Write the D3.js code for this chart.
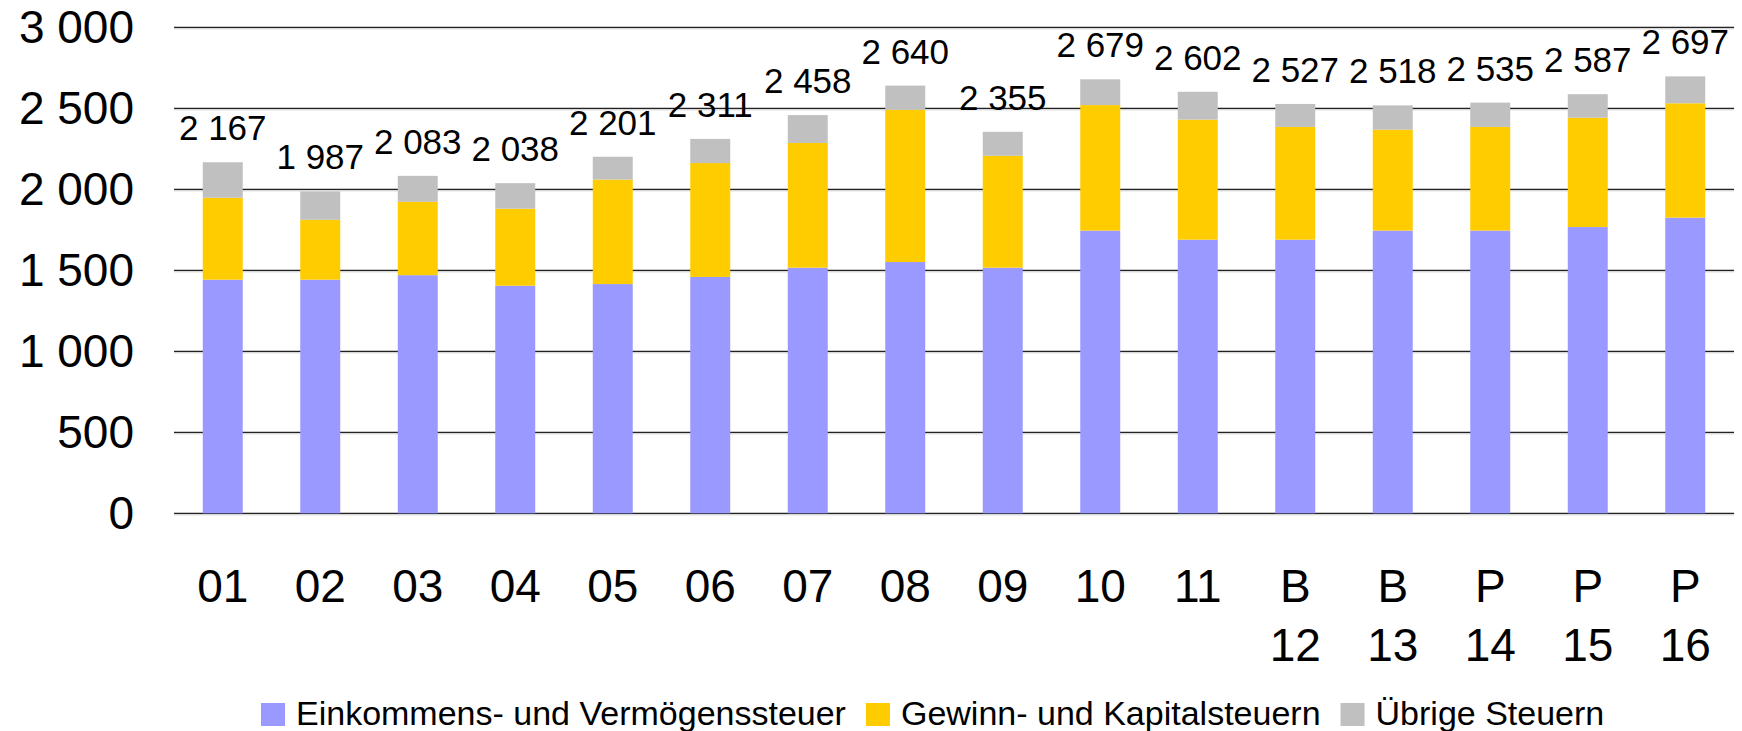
<!DOCTYPE html>
<html>
<head>
<meta charset="utf-8">
<script src="https://cdn.jsdelivr.net/npm/d3@7"></script>
<style>
body { margin: 0; background: #fff; }
text { font-family: "Liberation Sans", Arial, Helvetica, sans-serif; fill: #000; }
</style>
</head>
<body>
<script>
var categories = ["01", "02", "03", "04", "05", "06", "07", "08", "09", "10", "11", "B 12", "B 13", "P 14", "P 15", "P 16"];
var einkommen = [1442, 1442, 1470, 1405, 1415, 1459, 1516, 1551, 1516, 1745, 1689, 1689, 1745, 1745, 1767, 1825];
var gewinn    = [506, 370, 453, 475, 645, 703, 770, 940, 691, 775, 741, 696, 623, 640, 675, 706];
var uebrige   = [219, 175, 160, 158, 141, 149, 172, 149, 148, 159, 172, 142, 150, 150, 145, 166];
var totals    = [2167, 1987, 2083, 2038, 2201, 2311, 2458, 2640, 2355, 2679, 2602, 2527, 2518, 2535, 2587, 2697];
var yTicks = [0, 500, 1000, 1500, 2000, 2500, 3000];
var seriesNames = ["Einkommens- und Vermögenssteuer", "Gewinn- und Kapitalsteuern", "Übrige Steuern"];
var colors = ["#9999FF", "#FFCC00", "#C0C0C0"];

var width = 1742, height = 731;
var plotLeft = 174, plotRight = 1734, plotTop = 27.3, plotBottom = 513.3;

var fmt = d3.formatLocale({decimal: ",", thousands: " ", grouping: [3], currency: ["", ""]}).format(",d");

var svg = d3.select("body").append("svg")
    .attr("width", width)
    .attr("height", height);

var x = d3.scaleBand()
    .domain(categories)
    .range([plotLeft, plotRight])
    .paddingInner(0.59)
    .paddingOuter(0.295);

var y = d3.scaleLinear()
    .domain([0, 3000])
    .range([plotBottom, plotTop]);

// gridlines (dark line with a soft grey one underneath)
var grid = svg.append("g");
grid.selectAll("line.shadow")
    .data(yTicks)
    .enter().append("line")
        .attr("class", "shadow")
        .attr("x1", plotLeft).attr("x2", plotRight)
        .attr("y1", function(d) { return y(d) + 1.5; })
        .attr("y2", function(d) { return y(d) + 1.5; })
        .attr("stroke", "#c8c8c8")
        .attr("stroke-width", 1);
grid.selectAll("line.main")
    .data(yTicks)
    .enter().append("line")
        .attr("class", "main")
        .attr("x1", plotLeft).attr("x2", plotRight)
        .attr("y1", function(d) { return y(d); })
        .attr("y2", function(d) { return y(d); })
        .attr("stroke", "#222")
        .attr("stroke-width", 1.3);

// stacked bars
var rows = categories.map(function(c, i) {
    return {cat: c, a: einkommen[i], b: gewinn[i], c: uebrige[i]};
});
var stack = d3.stack().keys(["a", "b", "c"]);
var layers = stack(rows);

svg.append("g").selectAll("g")
    .data(layers)
    .enter().append("g")
        .attr("fill", function(d, i) { return colors[i]; })
    .selectAll("rect")
    .data(function(d) { return d; })
    .enter().append("rect")
        .attr("x", function(d) { return x(d.data.cat); })
        .attr("width", x.bandwidth())
        .attr("y", function(d) { return y(d[1]); })
        .attr("height", function(d) { return y(d[0]) - y(d[1]); });

// totals above bars
svg.append("g").selectAll("text")
    .data(categories)
    .enter().append("text")
        .attr("x", function(d) { return x(d) + x.bandwidth() / 2; })
        .attr("y", function(d, i) { return y(totals[i]) - 22; })
        .attr("text-anchor", "middle")
        .style("font-size", "35px")
        .text(function(d, i) { return fmt(totals[i]); });

// y axis
var yAxis = svg.append("g")
    .attr("transform", "translate(" + plotLeft + ",0)")
    .call(d3.axisLeft(y).tickValues(yTicks).tickSize(0).tickPadding(40).tickFormat(fmt));
yAxis.select(".domain").remove();
yAxis.selectAll("text")
    .style("font-size", "46px")
    .attr("fill", "#000");

// x axis with two-line labels
var xAxis = svg.append("g")
    .attr("transform", "translate(0," + plotBottom + ")")
    .call(d3.axisBottom(x).tickSize(0));
xAxis.select(".domain").remove();
xAxis.selectAll("text")
    .attr("fill", "#000")
    .attr("y", 0)
    .attr("dy", null)
    .style("font-size", "46px")
    .each(function(d) {
        var t = d3.select(this);
        var parts = d.split(" ");
        t.text(null);
        parts.forEach(function(p, k) {
            t.append("tspan")
                .attr("x", 0)
                .attr("y", 88.7 + k * 58.7)
                .text(p);
        });
    });

// legend
var legend = svg.append("g").attr("transform", "translate(261,0)");
var lx = 0;
seriesNames.forEach(function(name, i) {
    var item = legend.append("g").attr("transform", "translate(" + lx + ",0)");
    item.append("rect")
        .attr("x", 0).attr("y", 703)
        .attr("width", 24).attr("height", 23)
        .attr("fill", colors[i]);
    var t = item.append("text")
        .attr("x", 35).attr("y", 725)
        .style("font-size", "34px")
        .text(name);
    lx += 35 + t.node().getComputedTextLength() + 20;
});
</script>
</body>
</html>
